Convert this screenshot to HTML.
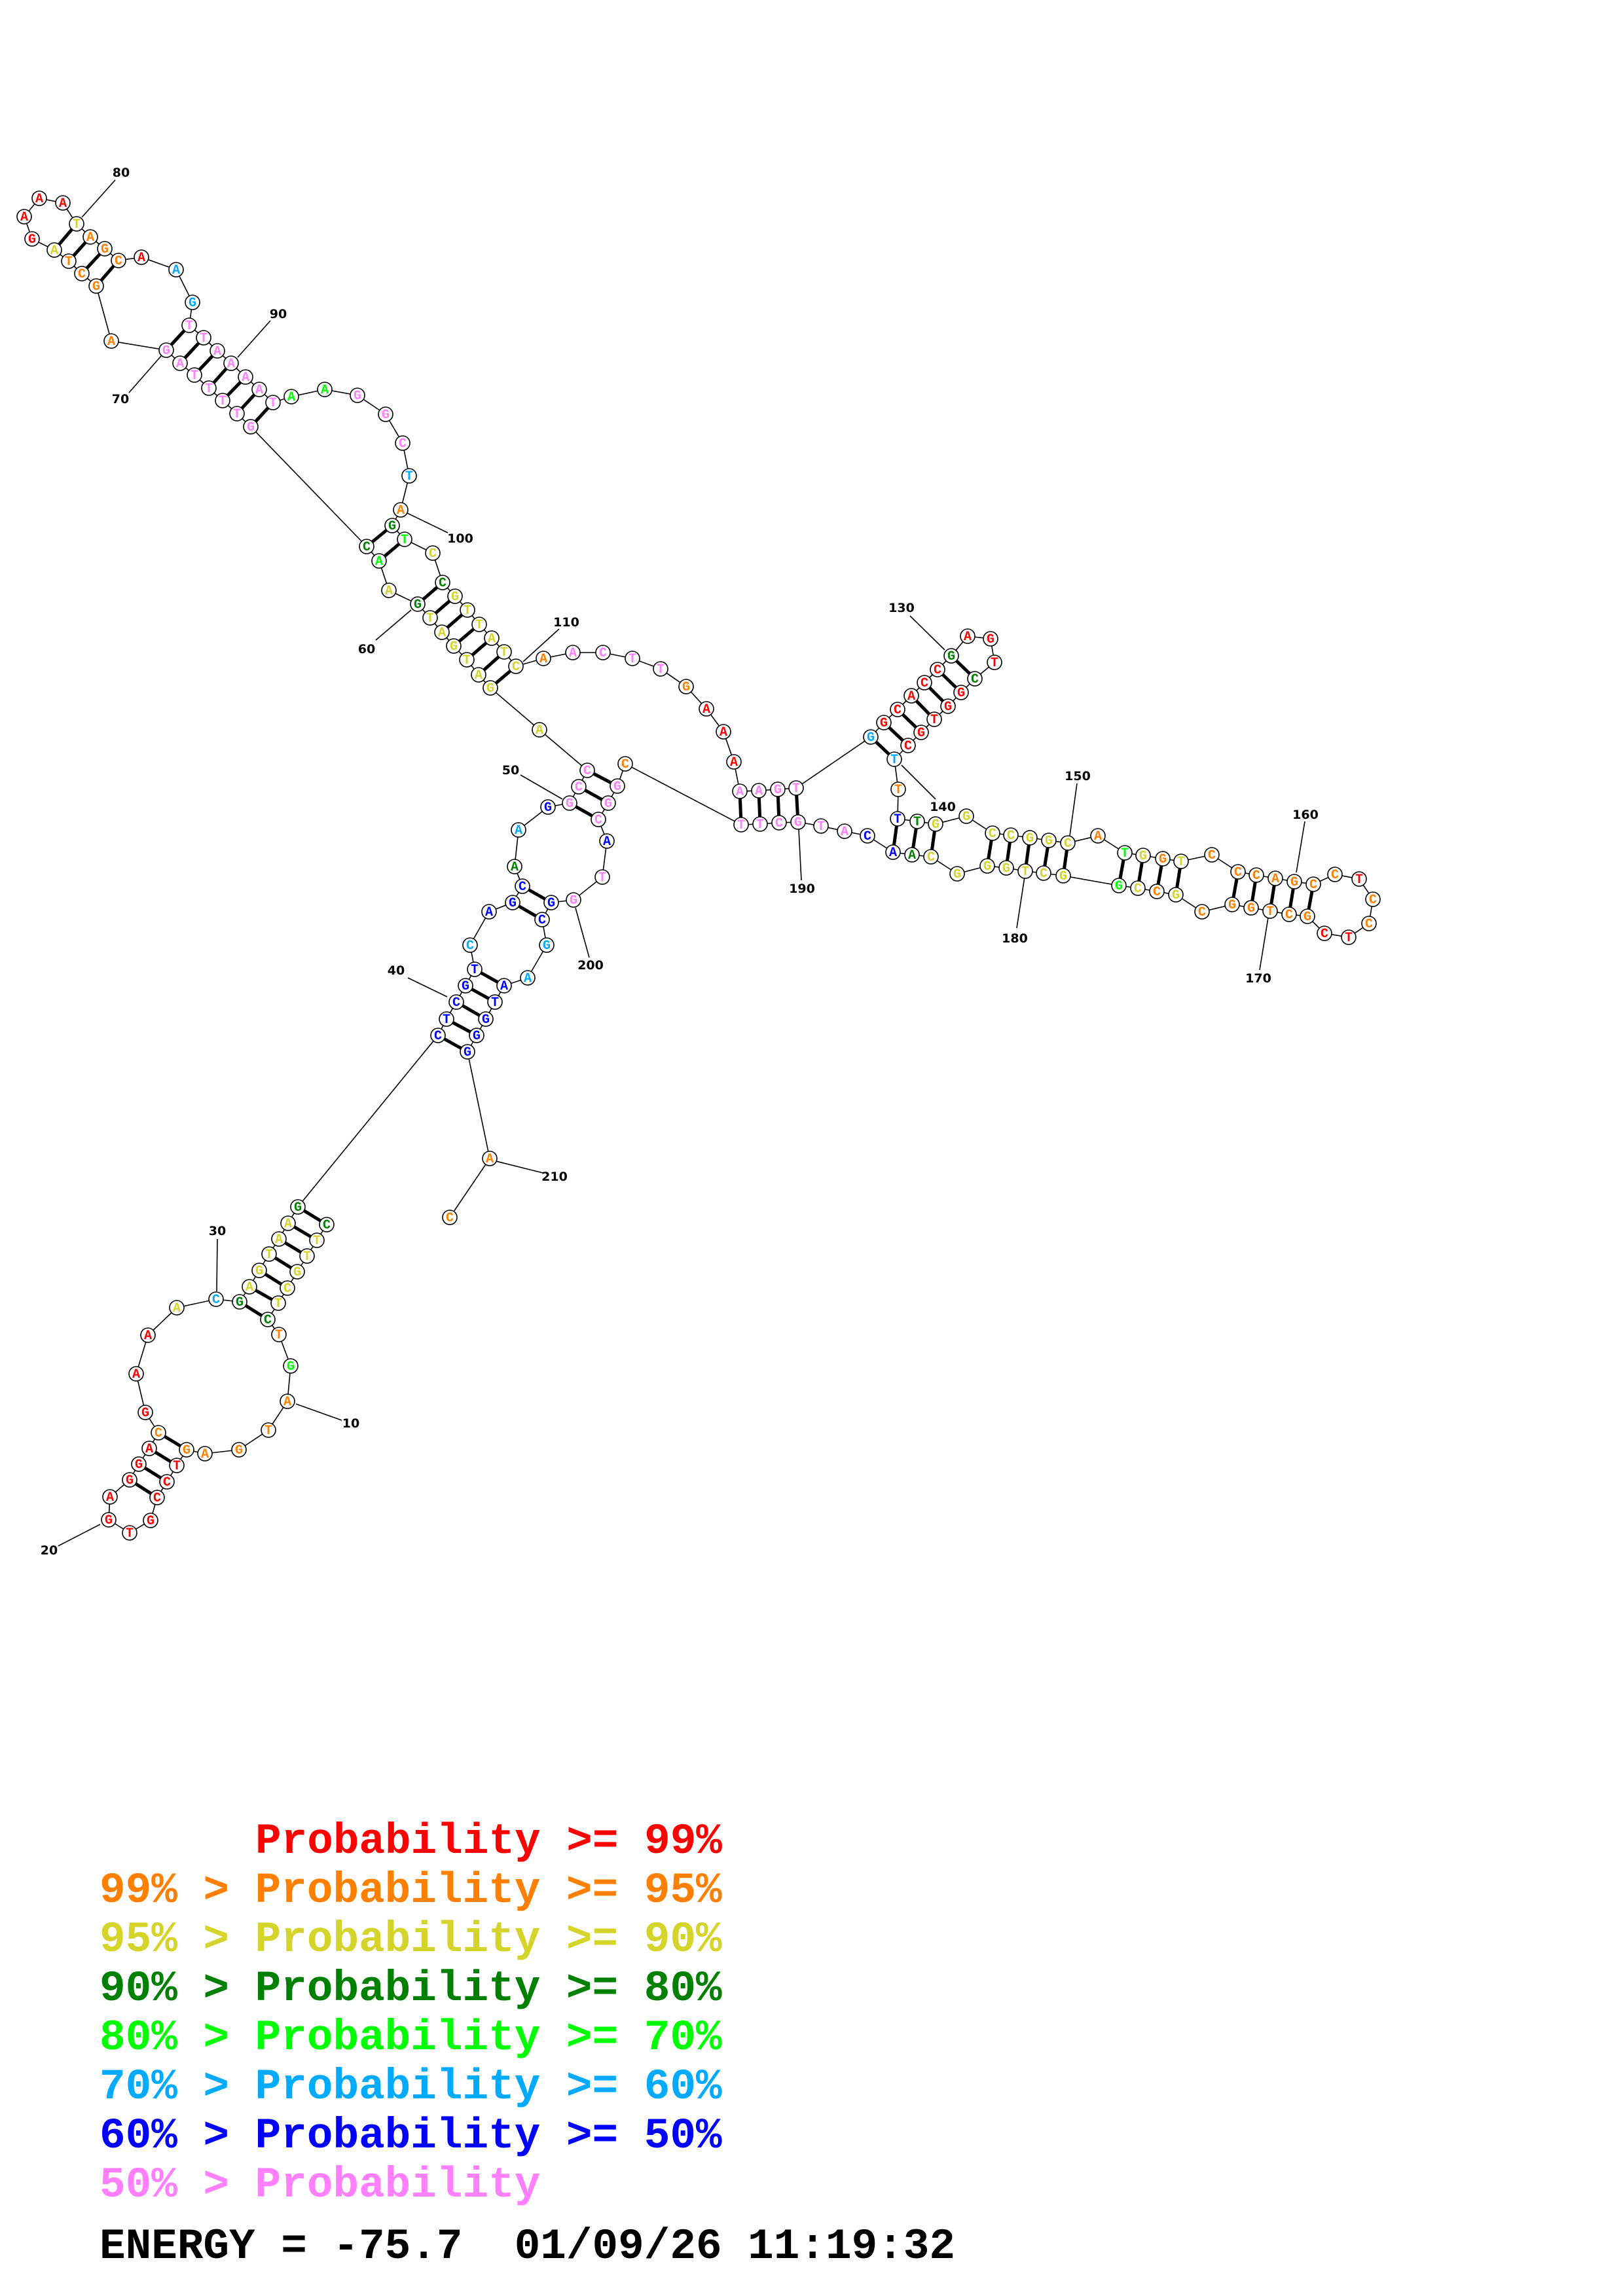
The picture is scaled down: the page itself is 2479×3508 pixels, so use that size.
<!DOCTYPE html>
<html><head><meta charset="utf-8"><style>
html,body{margin:0;padding:0;background:#fff}
svg{display:block}
.n circle{fill:#fff;stroke:#000;stroke-width:1.6}
.t text{font-family:"Liberation Mono",monospace;font-weight:bold;font-size:20px;text-anchor:middle}
.r{fill:#ff0000}.o{fill:#ff8000}.y{fill:#d4d42a}.g{fill:#008000}.l{fill:#00ff00}.c{fill:#00aaff}.b{fill:#0000ff}.p{fill:#ff80ff}.k{fill:#000}
.lab text{font-family:"DejaVu Sans",sans-serif;font-weight:bold;font-size:19px;text-anchor:middle;dominant-baseline:central}
.leg text{font-family:"Liberation Mono",monospace;font-weight:bold;font-size:66px}
</style></head><body>
<svg width="2479" height="3508" viewBox="0 0 2479 3508" xmlns="http://www.w3.org/2000/svg">
<rect width="2479" height="3508" fill="#fff"/>
<polyline fill="none" stroke="#000" stroke-width="1.6" points="499,1871 484,1895 469,1919 454,1943 439,1968 425,1991 409,2016 426,2039 444,2087 439,2141 410,2185 365,2215 313,2221 285,2215 270,2239 255,2264 240,2288 230,2323 198,2342 166,2322 168,2287 198,2261 212,2237 228,2213 242,2189 222,2158 208,2099 226,2040 270,1998 330,1985 366,1989 381,1966 396,1941 411,1916 426,1893 440,1869 455,1844 669,1582 682,1557 697,1531 711,1506 725,1481 718,1444 747,1393 783,1379 798,1354 786,1324 792,1268 837,1233 870,1227 884,1202 897,1177 824,1115 749,1051 731,1031 713,1008 693,987 675,966 657,944 638,923 594,902 579,857 560,835 383,652 362,632 340,612 319,593 297,573 275,555 254,535 170,521 147,437 125,418 105,399 83,382 49,365 37,331 60,303 96,310 117,342 138,362 160,380 181,398 216,393 269,412 294,462 289,497 311,516 332,536 353,555 375,576 396,595 417,615 445,606 496,595 546,604 589,633 615,677 625,727 612,779 599,803 618,824 661,845 676,890 695,911 714,932 732,954 751,975 770,996 788,1018 830,1006 875,997 921,997 966,1006 1009,1022 1048,1049 1079,1083 1105,1118 1121,1164 1130,1209 1159,1208 1188,1206 1216,1204 1330,1126 1350,1104 1371,1084 1392,1063 1412,1043 1432,1023 1453,1002 1478,972 1513,976 1519,1012 1489,1037 1468,1058 1448,1079 1427,1099 1407,1119 1387,1139 1366,1160 1372,1206 1371,1251 1401,1255 1429,1259 1476,1247 1516,1273 1544,1276 1573,1280 1602,1284 1631,1288 1677,1277 1718,1303 1746,1307 1776,1312 1804,1316 1851,1306 1891,1332 1919,1337 1948,1342 1977,1347 2006,1351 2039,1336 2076,1343 2097,1374 2091,1411 2060,1432 2023,1426 1997,1400 1969,1397 1940,1392 1911,1387 1882,1382 1836,1393 1796,1367 1767,1362 1738,1357 1709,1353 1624,1338 1594,1334 1566,1331 1537,1326 1508,1323 1462,1335 1422,1309 1393,1306 1364,1302 1325,1277 1290,1270 1254,1262 1219,1256 1190,1257 1161,1259 1132,1260 955,1167 943,1201 929,1227 914,1252 927,1285 920,1340 876,1375 842,1379 828,1405 835,1444 806,1494 770,1506 756,1531 742,1557 728,1582 714,1607 748,1770 687,1860"/>
<path fill="none" stroke="#000" stroke-width="5" d="M499,1871L455,1844M484,1895L440,1869M469,1919L426,1893M454,1943L411,1916M439,1968L396,1941M425,1991L381,1966M409,2016L366,1989M285,2215L242,2189M270,2239L228,2213M255,2264L212,2237M240,2288L198,2261M669,1582L714,1607M682,1557L728,1582M697,1531L742,1557M711,1506L756,1531M725,1481L770,1506M783,1379L828,1405M798,1354L842,1379M870,1227L914,1252M884,1202L929,1227M897,1177L943,1201M749,1051L788,1018M731,1031L770,996M713,1008L751,975M693,987L732,954M675,966L714,932M657,944L695,911M638,923L676,890M579,857L618,824M560,835L599,803M383,652L417,615M362,632L396,595M340,612L375,576M319,593L353,555M297,573L332,536M275,555L311,516M254,535L289,497M147,437L181,398M125,418L160,380M105,399L138,362M83,382L117,342M1130,1209L1132,1260M1159,1208L1161,1259M1188,1206L1190,1257M1216,1204L1219,1256M1330,1126L1366,1160M1350,1104L1387,1139M1371,1084L1407,1119M1392,1063L1427,1099M1412,1043L1448,1079M1432,1023L1468,1058M1453,1002L1489,1037M1371,1251L1364,1302M1401,1255L1393,1306M1429,1259L1422,1309M1516,1273L1508,1323M1544,1276L1537,1326M1573,1280L1566,1331M1602,1284L1594,1334M1631,1288L1624,1338M1718,1303L1709,1353M1746,1307L1738,1357M1776,1312L1767,1362M1804,1316L1796,1367M1891,1332L1882,1382M1919,1337L1911,1387M1948,1342L1940,1392M1977,1347L1969,1397M2006,1351L1997,1400"/>
<path fill="none" stroke="#000" stroke-width="1.6" d="M452,2145L522,2170M153,2329L89,2362M331,1973L332,1893M683,1523L623,1494M859,1221L795,1184M628,932L574,978M246,544L197,600M125,332L176,275M363,546L413,490M622,784L684,814M799,1011L854,961M1443,993L1390,941M1377,1169L1429,1221M1634,1277L1645,1197M1980,1333L1993,1255M1937,1402L1924,1482M1565,1340L1553,1418M1220,1267L1224,1345M879,1387L900,1463M757,1774L829,1792"/>
<g class="lab">
<text x="536" y="2175">10</text><text x="75" y="2369">20</text><text x="332" y="1881">30</text><text x="605" y="1483">40</text><text x="780" y="1177">50</text><text x="560" y="992">60</text><text x="184" y="610">70</text><text x="185" y="264">80</text><text x="425" y="480">90</text><text x="703" y="823">100</text><text x="865" y="951">110</text><text x="1377" y="929">130</text><text x="1440" y="1233">140</text><text x="1646" y="1186">150</text><text x="1994" y="1245">160</text><text x="1922" y="1495">170</text><text x="1550" y="1434">180</text><text x="1225" y="1358">190</text><text x="902" y="1475">200</text><text x="847" y="1798">210</text>
</g>
<g class="n">
<circle cx="499" cy="1871" r="11"/><circle cx="484" cy="1895" r="11"/><circle cx="469" cy="1919" r="11"/><circle cx="454" cy="1943" r="11"/><circle cx="439" cy="1968" r="11"/><circle cx="425" cy="1991" r="11"/><circle cx="409" cy="2016" r="11"/><circle cx="426" cy="2039" r="11"/><circle cx="444" cy="2087" r="11"/><circle cx="439" cy="2141" r="11"/><circle cx="410" cy="2185" r="11"/><circle cx="365" cy="2215" r="11"/><circle cx="313" cy="2221" r="11"/><circle cx="285" cy="2215" r="11"/><circle cx="270" cy="2239" r="11"/><circle cx="255" cy="2264" r="11"/><circle cx="240" cy="2288" r="11"/><circle cx="230" cy="2323" r="11"/><circle cx="198" cy="2342" r="11"/><circle cx="166" cy="2322" r="11"/><circle cx="168" cy="2287" r="11"/><circle cx="198" cy="2261" r="11"/><circle cx="212" cy="2237" r="11"/><circle cx="228" cy="2213" r="11"/><circle cx="242" cy="2189" r="11"/><circle cx="222" cy="2158" r="11"/><circle cx="208" cy="2099" r="11"/><circle cx="226" cy="2040" r="11"/><circle cx="270" cy="1998" r="11"/><circle cx="330" cy="1985" r="11"/><circle cx="366" cy="1989" r="11"/><circle cx="381" cy="1966" r="11"/><circle cx="396" cy="1941" r="11"/><circle cx="411" cy="1916" r="11"/><circle cx="426" cy="1893" r="11"/><circle cx="440" cy="1869" r="11"/><circle cx="455" cy="1844" r="11"/><circle cx="669" cy="1582" r="11"/><circle cx="682" cy="1557" r="11"/><circle cx="697" cy="1531" r="11"/><circle cx="711" cy="1506" r="11"/><circle cx="725" cy="1481" r="11"/><circle cx="718" cy="1444" r="11"/><circle cx="747" cy="1393" r="11"/><circle cx="783" cy="1379" r="11"/><circle cx="798" cy="1354" r="11"/><circle cx="786" cy="1324" r="11"/><circle cx="792" cy="1268" r="11"/><circle cx="837" cy="1233" r="11"/><circle cx="870" cy="1227" r="11"/><circle cx="884" cy="1202" r="11"/><circle cx="897" cy="1177" r="11"/><circle cx="824" cy="1115" r="11"/><circle cx="749" cy="1051" r="11"/><circle cx="731" cy="1031" r="11"/><circle cx="713" cy="1008" r="11"/><circle cx="693" cy="987" r="11"/><circle cx="675" cy="966" r="11"/><circle cx="657" cy="944" r="11"/><circle cx="638" cy="923" r="11"/><circle cx="594" cy="902" r="11"/><circle cx="579" cy="857" r="11"/><circle cx="560" cy="835" r="11"/><circle cx="383" cy="652" r="11"/><circle cx="362" cy="632" r="11"/><circle cx="340" cy="612" r="11"/><circle cx="319" cy="593" r="11"/><circle cx="297" cy="573" r="11"/><circle cx="275" cy="555" r="11"/><circle cx="254" cy="535" r="11"/><circle cx="170" cy="521" r="11"/><circle cx="147" cy="437" r="11"/><circle cx="125" cy="418" r="11"/><circle cx="105" cy="399" r="11"/><circle cx="83" cy="382" r="11"/><circle cx="49" cy="365" r="11"/><circle cx="37" cy="331" r="11"/><circle cx="60" cy="303" r="11"/><circle cx="96" cy="310" r="11"/><circle cx="117" cy="342" r="11"/><circle cx="138" cy="362" r="11"/><circle cx="160" cy="380" r="11"/><circle cx="181" cy="398" r="11"/><circle cx="216" cy="393" r="11"/><circle cx="269" cy="412" r="11"/><circle cx="294" cy="462" r="11"/><circle cx="289" cy="497" r="11"/><circle cx="311" cy="516" r="11"/><circle cx="332" cy="536" r="11"/><circle cx="353" cy="555" r="11"/><circle cx="375" cy="576" r="11"/><circle cx="396" cy="595" r="11"/><circle cx="417" cy="615" r="11"/><circle cx="445" cy="606" r="11"/><circle cx="496" cy="595" r="11"/><circle cx="546" cy="604" r="11"/><circle cx="589" cy="633" r="11"/><circle cx="615" cy="677" r="11"/><circle cx="625" cy="727" r="11"/><circle cx="612" cy="779" r="11"/><circle cx="599" cy="803" r="11"/><circle cx="618" cy="824" r="11"/><circle cx="661" cy="845" r="11"/><circle cx="676" cy="890" r="11"/><circle cx="695" cy="911" r="11"/><circle cx="714" cy="932" r="11"/><circle cx="732" cy="954" r="11"/><circle cx="751" cy="975" r="11"/><circle cx="770" cy="996" r="11"/><circle cx="788" cy="1018" r="11"/><circle cx="830" cy="1006" r="11"/><circle cx="875" cy="997" r="11"/><circle cx="921" cy="997" r="11"/><circle cx="966" cy="1006" r="11"/><circle cx="1009" cy="1022" r="11"/><circle cx="1048" cy="1049" r="11"/><circle cx="1079" cy="1083" r="11"/><circle cx="1105" cy="1118" r="11"/><circle cx="1121" cy="1164" r="11"/><circle cx="1130" cy="1209" r="11"/><circle cx="1159" cy="1208" r="11"/><circle cx="1188" cy="1206" r="11"/><circle cx="1216" cy="1204" r="11"/><circle cx="1330" cy="1126" r="11"/><circle cx="1350" cy="1104" r="11"/><circle cx="1371" cy="1084" r="11"/><circle cx="1392" cy="1063" r="11"/><circle cx="1412" cy="1043" r="11"/><circle cx="1432" cy="1023" r="11"/><circle cx="1453" cy="1002" r="11"/><circle cx="1478" cy="972" r="11"/><circle cx="1513" cy="976" r="11"/><circle cx="1519" cy="1012" r="11"/><circle cx="1489" cy="1037" r="11"/><circle cx="1468" cy="1058" r="11"/><circle cx="1448" cy="1079" r="11"/><circle cx="1427" cy="1099" r="11"/><circle cx="1407" cy="1119" r="11"/><circle cx="1387" cy="1139" r="11"/><circle cx="1366" cy="1160" r="11"/><circle cx="1372" cy="1206" r="11"/><circle cx="1371" cy="1251" r="11"/><circle cx="1401" cy="1255" r="11"/><circle cx="1429" cy="1259" r="11"/><circle cx="1476" cy="1247" r="11"/><circle cx="1516" cy="1273" r="11"/><circle cx="1544" cy="1276" r="11"/><circle cx="1573" cy="1280" r="11"/><circle cx="1602" cy="1284" r="11"/><circle cx="1631" cy="1288" r="11"/><circle cx="1677" cy="1277" r="11"/><circle cx="1718" cy="1303" r="11"/><circle cx="1746" cy="1307" r="11"/><circle cx="1776" cy="1312" r="11"/><circle cx="1804" cy="1316" r="11"/><circle cx="1851" cy="1306" r="11"/><circle cx="1891" cy="1332" r="11"/><circle cx="1919" cy="1337" r="11"/><circle cx="1948" cy="1342" r="11"/><circle cx="1977" cy="1347" r="11"/><circle cx="2006" cy="1351" r="11"/><circle cx="2039" cy="1336" r="11"/><circle cx="2076" cy="1343" r="11"/><circle cx="2097" cy="1374" r="11"/><circle cx="2091" cy="1411" r="11"/><circle cx="2060" cy="1432" r="11"/><circle cx="2023" cy="1426" r="11"/><circle cx="1997" cy="1400" r="11"/><circle cx="1969" cy="1397" r="11"/><circle cx="1940" cy="1392" r="11"/><circle cx="1911" cy="1387" r="11"/><circle cx="1882" cy="1382" r="11"/><circle cx="1836" cy="1393" r="11"/><circle cx="1796" cy="1367" r="11"/><circle cx="1767" cy="1362" r="11"/><circle cx="1738" cy="1357" r="11"/><circle cx="1709" cy="1353" r="11"/><circle cx="1624" cy="1338" r="11"/><circle cx="1594" cy="1334" r="11"/><circle cx="1566" cy="1331" r="11"/><circle cx="1537" cy="1326" r="11"/><circle cx="1508" cy="1323" r="11"/><circle cx="1462" cy="1335" r="11"/><circle cx="1422" cy="1309" r="11"/><circle cx="1393" cy="1306" r="11"/><circle cx="1364" cy="1302" r="11"/><circle cx="1325" cy="1277" r="11"/><circle cx="1290" cy="1270" r="11"/><circle cx="1254" cy="1262" r="11"/><circle cx="1219" cy="1256" r="11"/><circle cx="1190" cy="1257" r="11"/><circle cx="1161" cy="1259" r="11"/><circle cx="1132" cy="1260" r="11"/><circle cx="955" cy="1167" r="11"/><circle cx="943" cy="1201" r="11"/><circle cx="929" cy="1227" r="11"/><circle cx="914" cy="1252" r="11"/><circle cx="927" cy="1285" r="11"/><circle cx="920" cy="1340" r="11"/><circle cx="876" cy="1375" r="11"/><circle cx="842" cy="1379" r="11"/><circle cx="828" cy="1405" r="11"/><circle cx="835" cy="1444" r="11"/><circle cx="806" cy="1494" r="11"/><circle cx="770" cy="1506" r="11"/><circle cx="756" cy="1531" r="11"/><circle cx="742" cy="1557" r="11"/><circle cx="728" cy="1582" r="11"/><circle cx="714" cy="1607" r="11"/><circle cx="748" cy="1770" r="11"/><circle cx="687" cy="1860" r="11"/>
</g>
<g class="t">
<text x="499" y="1877" class="g">C</text><text x="484" y="1901" class="y">T</text><text x="469" y="1925" class="y">T</text><text x="454" y="1949" class="y">G</text><text x="439" y="1974" class="y">C</text><text x="425" y="1997" class="y">T</text><text x="409" y="2022" class="g">C</text><text x="426" y="2045" class="o">T</text><text x="444" y="2093" class="l">G</text><text x="439" y="2147" class="o">A</text><text x="410" y="2191" class="o">T</text><text x="365" y="2221" class="o">G</text><text x="313" y="2227" class="o">A</text><text x="285" y="2221" class="o">G</text><text x="270" y="2245" class="r">T</text><text x="255" y="2270" class="r">C</text><text x="240" y="2294" class="r">C</text><text x="230" y="2329" class="r">G</text><text x="198" y="2348" class="r">T</text><text x="166" y="2328" class="r">G</text><text x="168" y="2293" class="r">A</text><text x="198" y="2267" class="r">G</text><text x="212" y="2243" class="r">G</text><text x="228" y="2219" class="r">A</text><text x="242" y="2195" class="o">C</text><text x="222" y="2164" class="r">G</text><text x="208" y="2105" class="r">A</text><text x="226" y="2046" class="r">A</text><text x="270" y="2004" class="y">A</text><text x="330" y="1991" class="c">C</text><text x="366" y="1995" class="g">G</text><text x="381" y="1972" class="y">A</text><text x="396" y="1947" class="y">G</text><text x="411" y="1922" class="y">T</text><text x="426" y="1899" class="y">A</text><text x="440" y="1875" class="y">A</text><text x="455" y="1850" class="g">G</text>
<text x="669" y="1588" class="b">C</text><text x="682" y="1563" class="b">T</text><text x="697" y="1537" class="b">C</text><text x="711" y="1512" class="b">G</text><text x="725" y="1487" class="b">T</text><text x="718" y="1450" class="c">C</text><text x="747" y="1399" class="b">A</text><text x="783" y="1385" class="b">G</text><text x="798" y="1360" class="b">C</text><text x="786" y="1330" class="g">A</text><text x="792" y="1274" class="c">A</text><text x="837" y="1239" class="b">G</text><text x="870" y="1233" class="p">G</text><text x="884" y="1208" class="p">C</text><text x="897" y="1183" class="p">C</text><text x="824" y="1121" class="y">A</text><text x="749" y="1057" class="y">G</text><text x="731" y="1037" class="y">A</text><text x="713" y="1014" class="y">T</text><text x="693" y="993" class="y">G</text><text x="675" y="972" class="y">A</text><text x="657" y="950" class="y">T</text><text x="638" y="929" class="g">G</text><text x="594" y="908" class="y">A</text><text x="579" y="863" class="l">A</text><text x="560" y="841" class="g">C</text>
<text x="383" y="658" class="p">G</text><text x="362" y="638" class="p">T</text><text x="340" y="618" class="p">T</text><text x="319" y="599" class="p">T</text><text x="297" y="579" class="p">T</text><text x="275" y="561" class="p">A</text><text x="254" y="541" class="p">G</text><text x="170" y="527" class="o">A</text><text x="147" y="443" class="o">G</text><text x="125" y="424" class="o">C</text><text x="105" y="405" class="o">T</text><text x="83" y="388" class="y">A</text><text x="49" y="371" class="r">G</text><text x="37" y="337" class="r">A</text><text x="60" y="309" class="r">A</text><text x="96" y="316" class="r">A</text><text x="117" y="348" class="y">T</text><text x="138" y="368" class="o">A</text><text x="160" y="386" class="o">G</text><text x="181" y="404" class="o">C</text><text x="216" y="399" class="r">A</text><text x="269" y="418" class="c">A</text><text x="294" y="468" class="c">G</text><text x="289" y="503" class="p">T</text><text x="311" y="522" class="p">T</text><text x="332" y="542" class="p">A</text><text x="353" y="561" class="p">A</text><text x="375" y="582" class="p">A</text><text x="396" y="601" class="p">A</text><text x="417" y="621" class="p">T</text><text x="445" y="612" class="l">A</text><text x="496" y="601" class="l">A</text><text x="546" y="610" class="p">G</text><text x="589" y="639" class="p">G</text><text x="615" y="683" class="p">C</text><text x="625" y="733" class="c">T</text><text x="612" y="785" class="o">A</text><text x="599" y="809" class="g">G</text><text x="618" y="830" class="l">T</text><text x="661" y="851" class="y">C</text><text x="676" y="896" class="g">C</text><text x="695" y="917" class="y">G</text><text x="714" y="938" class="y">T</text><text x="732" y="960" class="y">T</text><text x="751" y="981" class="y">A</text><text x="770" y="1002" class="y">T</text><text x="788" y="1024" class="y">C</text><text x="830" y="1012" class="o">A</text><text x="875" y="1003" class="p">A</text><text x="921" y="1003" class="p">C</text><text x="966" y="1012" class="p">T</text><text x="1009" y="1028" class="p">T</text><text x="1048" y="1055" class="o">G</text><text x="1079" y="1089" class="r">A</text><text x="1105" y="1124" class="r">A</text><text x="1121" y="1170" class="r">A</text><text x="1130" y="1215" class="p">A</text><text x="1159" y="1214" class="p">A</text><text x="1188" y="1212" class="p">G</text><text x="1216" y="1210" class="p">T</text>
<text x="1330" y="1132" class="c">G</text><text x="1350" y="1110" class="r">G</text><text x="1371" y="1090" class="r">C</text><text x="1392" y="1069" class="r">A</text><text x="1412" y="1049" class="r">C</text><text x="1432" y="1029" class="r">C</text><text x="1453" y="1008" class="g">G</text><text x="1478" y="978" class="r">A</text><text x="1513" y="982" class="r">G</text><text x="1519" y="1018" class="r">T</text><text x="1489" y="1043" class="g">C</text><text x="1468" y="1064" class="r">G</text><text x="1448" y="1085" class="r">G</text><text x="1427" y="1105" class="r">T</text><text x="1407" y="1125" class="r">G</text><text x="1387" y="1145" class="r">C</text><text x="1366" y="1166" class="c">T</text><text x="1372" y="1212" class="o">T</text><text x="1371" y="1257" class="b">T</text><text x="1401" y="1261" class="g">T</text><text x="1429" y="1265" class="y">G</text><text x="1476" y="1253" class="y">G</text><text x="1516" y="1279" class="y">C</text><text x="1544" y="1282" class="y">C</text><text x="1573" y="1286" class="y">G</text><text x="1602" y="1290" class="y">G</text><text x="1631" y="1294" class="y">C</text><text x="1677" y="1283" class="o">A</text><text x="1718" y="1309" class="l">T</text><text x="1746" y="1313" class="y">G</text><text x="1776" y="1318" class="o">G</text><text x="1804" y="1322" class="y">T</text><text x="1851" y="1312" class="o">C</text><text x="1891" y="1338" class="o">C</text><text x="1919" y="1343" class="o">C</text><text x="1948" y="1348" class="o">A</text><text x="1977" y="1353" class="o">G</text><text x="2006" y="1357" class="o">C</text><text x="2039" y="1342" class="o">C</text><text x="2076" y="1349" class="r">T</text><text x="2097" y="1380" class="o">C</text><text x="2091" y="1417" class="o">C</text><text x="2060" y="1438" class="r">T</text><text x="2023" y="1432" class="r">C</text><text x="1997" y="1406" class="o">G</text><text x="1969" y="1403" class="o">C</text><text x="1940" y="1398" class="o">T</text><text x="1911" y="1393" class="o">G</text><text x="1882" y="1388" class="o">G</text><text x="1836" y="1399" class="o">C</text><text x="1796" y="1373" class="y">G</text><text x="1767" y="1368" class="o">C</text><text x="1738" y="1363" class="y">C</text><text x="1709" y="1359" class="l">G</text><text x="1624" y="1344" class="y">G</text><text x="1594" y="1340" class="y">C</text><text x="1566" y="1337" class="y">T</text><text x="1537" y="1332" class="y">G</text><text x="1508" y="1329" class="y">G</text><text x="1462" y="1341" class="y">G</text><text x="1422" y="1315" class="y">C</text><text x="1393" y="1312" class="g">A</text><text x="1364" y="1308" class="b">A</text><text x="1325" y="1283" class="b">C</text><text x="1290" y="1276" class="p">A</text><text x="1254" y="1268" class="p">T</text><text x="1219" y="1262" class="p">G</text><text x="1190" y="1263" class="p">C</text><text x="1161" y="1265" class="p">T</text><text x="1132" y="1266" class="p">T</text>
<text x="955" y="1173" class="o">C</text><text x="943" y="1207" class="p">G</text><text x="929" y="1233" class="p">G</text><text x="914" y="1258" class="p">C</text><text x="927" y="1291" class="b">A</text><text x="920" y="1346" class="p">T</text><text x="876" y="1381" class="p">G</text><text x="842" y="1385" class="b">G</text><text x="828" y="1411" class="b">C</text><text x="835" y="1450" class="c">G</text><text x="806" y="1500" class="c">A</text><text x="770" y="1512" class="b">A</text><text x="756" y="1537" class="b">T</text><text x="742" y="1563" class="b">G</text><text x="728" y="1588" class="b">G</text><text x="714" y="1613" class="b">G</text><text x="748" y="1776" class="o">A</text><text x="687" y="1866" class="o">C</text>
</g>
<g class="leg">
<text x="390" y="2831" class="r">Probability &gt;= 99%</text>
<text x="152" y="2906" class="o">99% &gt; Probability &gt;= 95%</text>
<text x="152" y="2981" class="y">95% &gt; Probability &gt;= 90%</text>
<text x="152" y="3056" class="g">90% &gt; Probability &gt;= 80%</text>
<text x="152" y="3131" class="l">80% &gt; Probability &gt;= 70%</text>
<text x="152" y="3206" class="c">70% &gt; Probability &gt;= 60%</text>
<text x="152" y="3281" class="b">60% &gt; Probability &gt;= 50%</text>
<text x="152" y="3356" class="p">50% &gt; Probability</text>
<text x="152" y="3450" class="k" xml:space="preserve">ENERGY = -75.7  01/09/26 11:19:32</text>
</g>
</svg>
</body></html>
